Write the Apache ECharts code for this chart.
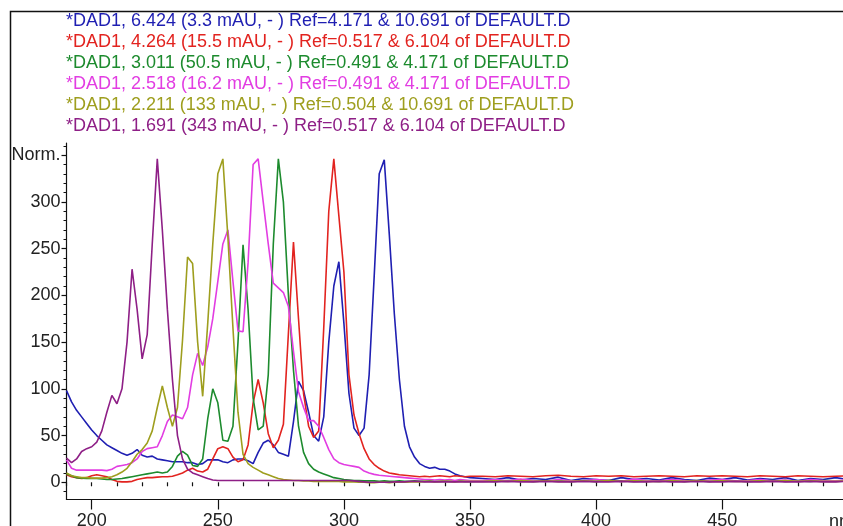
<!DOCTYPE html>
<html><head><meta charset="utf-8">
<script src="https://cdn.jsdelivr.net/npm/echarts@6/dist/echarts.min.js"></script>
<style>html,body{margin:0;padding:0;background:#fff}#c{width:843px;height:526px}</style>
</head><body><div id="c"></div>
<script>
// wavelength (nm)
const wl = [190,192,194,196,198,200,202,204,206,208,210,212,214,216,218,220,222,224,226,228,230,232,234,236,238,240,242,244,246,248,250,252,254,256,258,260,262,264,266,268,270,272,274,276,278,280,282,284,286,288,290,292,294,296,298,300,302,304,306,308,310,312,314,316,318,320,322,324,326,328,330,332,334,336,338,340,342,344,346,348,350,
355,360,365,370,375,380,385,390,395,400,405,410,415,420,425,430,435,440,445,450,455,460,465,470,475,480,485,490,495,500];

const dad6424 = [98,86,77,70,63,56,50,45,40,37,34,31,29,31,35,29,27,28,25,24,23,22,22,22,21,21,19,20,24,24,24,22,21,24,25,25,23,20,32,42,45,40,32,30,28,65,108,98,75,50,44,70,150,210,236,170,95,58,50,58,115,220,330,345,265,180,110,60,38,27,20,17,15,16,14,14,12,9,7,6,5,
4,3,5,2.5,4,3,5.5,2,4,3,2,5,3,4,2.5,5,3,2,4.5,3,5,2.5,4,3,5,2,4,3,5,3];
const dad4264 = [8,6,5,4,5,7,8,7,6,3,1,0.5,0.5,1,3,4,5,5,5.5,6,6,6.5,8,10,13,15,12,11,14,25,36,38,36,27,22,24,40,85,110,85,52,37,45,62,160,257,175,95,60,48,55,165,290,346,285,225,115,72,52,36,25,19,15,12,10,9,8,7.5,7,6.5,6,6.5,6,6.5,7,6.5,6,7,6.5,6,6.5,
6.5,6,7,6.5,6,7,7.5,6.5,6,7,6.5,7,6,6.5,7,6.5,6,7,6.5,7,6.5,6,7,6.5,6,7,6.5,6,6.5,7];
const dad3011 = [9,7,5,4.5,4,4,4,3.5,3,3,3.5,4,5,6,7,8,9,10,11,10,11,17,28,33,29,18,17,25,68,100,85,45,44,60,150,254,185,90,56,60,115,255,346,300,200,120,60,32,20,14,11,9,7,5,4,3,2.5,2,2,1.5,1.5,1.5,1,1.5,1,1,1.5,1,1,1.5,1,1,1.5,1,1,1.5,1,1,1.5,1,1,
1.5,1,2,1.5,1,1.5,2,1,1.5,1,2,1.5,1,1.5,1,2,1,1.5,1,2,1.5,1,1.5,2,1,1.5,1,2,1.5,1];
const dad2518 = [24,15,13,13,13,13,13,13,12.5,14,17,18,19,21,25,33,36,37,38,50,65,72,70,68,80,115,138,125,145,175,215,255,270,215,162,161,235,340,346,300,255,213,208,203,188,140,97,80,66,66,60,48,35,25,21,19,18,17,16,12,10,8.5,7.5,7,6.5,6,5.5,5,4.5,4,3.5,3,3,2.5,3,2.5,3,2,3,2.5,2,
2,3,1.5,3.5,2,1,3,2,1.5,3,2,1,3.5,2,1.5,3,2,1,2.5,3,1.5,2,3,1.5,2.5,1,3,2,1.5,2.5];
const dad2211 = [10,7,6,5,5,4.5,4.5,4.5,5,6,8,11,15,22,30,35,42,55,80,103,80,60,80,152,241,234,150,92,170,255,330,346,262,165,75,30,20,16,13,10,8,6,4,3,2.5,2,2,1.5,1.5,1,1,1,1,1,1,0.5,0.5,0.5,0,0,-0.5,-0.5,0,0,-0.5,0,0.5,0,0.5,0.5,0.5,1,1,0.5,1,1,1,0.5,1,1,1,
1,1.5,1,2,1,1.5,1,1,1.5,1,2,1,1.5,1,1,1.5,1,2,1,1.5,1,1,1.5,1,2,1,1.5,1,1,1.5];
const dad1691 = [26,21,25,33,36,38,43,55,75,93,84,100,150,228,185,132,158,255,346,270,185,110,50,25,14,10,8,6,4,2.5,2,2,2,2,2,2,2,2,2,2,2,2,2,2,2,2,2,2,2,2,2,2,2,2,2,2,2,1.5,1,0.5,0,0,0,0,0,0.5,0.5,0.5,1,1,1,0.5,0.5,0.5,0.5,0.5,0.5,0.5,0.5,0.5,0.5,
0.5,0.5,1,0.5,0.5,1,0.5,0.5,1,0.5,0.5,1,0.5,0.5,1,0.5,0.5,1,0.5,0.5,1,0.5,0.5,1,0.5,0.5,1,0.5,0.5,1];

const legendLines = [
  "*DAD1, 6.424 (3.3 mAU, - ) Ref=4.171 & 10.691 of DEFAULT.D",
  "*DAD1, 4.264 (15.5 mAU, - ) Ref=0.517 & 6.104 of DEFAULT.D",
  "*DAD1, 3.011 (50.5 mAU, - ) Ref=0.491 & 4.171 of DEFAULT.D",
  "*DAD1, 2.518 (16.2 mAU, - ) Ref=0.491 & 4.171 of DEFAULT.D",
  "*DAD1, 2.211 (133 mAU, - ) Ref=0.504 & 10.691 of DEFAULT.D",
  "*DAD1, 1.691 (343 mAU, - ) Ref=0.517 & 6.104 of DEFAULT.D"
];
const yTicks = [0,50,100,150,200,250,300,350];
const yMinor = [-10,0,10,20,30,40,50,60,70,80,90,100,110,120,130,140,150,160,170,180,190,200,210,220,230,240,250,260,270,280,290,300,310,320,330,340,350,360];
const xTicks = [200,250,300,350,400,450,500];
const xLabels = [200,250,300,350,400,450];
const xMinor = [190,200,210,220,230,240,250,260,270,280,290,300,310,320,330,340,350,360,370,380,390,400,410,420,430,440,450,460,470,480,490,500];

const seriesData = [dad6424, dad4264, dad3011, dad2518, dad2211, dad1691];
const colors = ['#1f1fb2','#e2231f','#1d8b2e','#e23de2','#9e9e1e','#8e1f86'];

const chart = echarts.init(document.getElementById('c'), null, {renderer:'canvas'});
const font = "'Liberation Sans', Arial, sans-serif";
const axisCommon = {color:'#222', fontFamily: font, fontSize: 18};

const option = {
  animation: false,
  backgroundColor: '#fff',
  grid: {left: 66.5, top: 143, width: 781.8, height: 356.5, containLabel: false, outerBoundsMode: 'none'},
  xAxis: [
    {type:'value', min:190, max:500, position:'bottom',
     axisLine:{show:true, onZero:false, lineStyle:{color:'#111', width:1.2}},
     axisTick:{show:true, length:10, customValues:xTicks, lineStyle:{color:'#111', width:1.2}},
     axisLabel:{show:true, customValues:xLabels, margin:13, ...axisCommon},
     splitLine:{show:false}},
    {type:'value', min:190, max:500, position:'bottom',
     axisLine:{show:false}, axisTick:{show:true, length:4, customValues:xMinor, lineStyle:{color:'#111', width:1.2}},
     axisLabel:{show:false}, splitLine:{show:false}}
  ],
  yAxis: [
    {type:'value', min:-18.4, max:363, position:'left',
     axisLine:{show:true, onZero:false, lineStyle:{color:'#111', width:1.2}},
     axisTick:{show:true, length:5, customValues:yTicks, lineStyle:{color:'#111', width:1.2}},
     axisLabel:{show:true, customValues:yTicks, margin:6, ...axisCommon,
       formatter: v => (v === 350 ? 'Norm.' : String(v))},
     splitLine:{show:false}},
    {type:'value', min:-18.4, max:363, position:'left',
     axisLine:{show:false}, axisTick:{show:true, length:3, customValues:yMinor, lineStyle:{color:'#111', width:1}},
     axisLabel:{show:false}, splitLine:{show:false}}
  ],
  series: seriesData.map((arr, i) => ({
    type:'line', xAxisIndex:0, yAxisIndex:0, showSymbol:false, symbol:'none',
    data: wl.map((w, k) => [w, arr[k]]),
    lineStyle:{color: colors[i], width:1.6}, itemStyle:{color: colors[i]},
    z: 2 + i
  })),
  graphic: [
    {type:'rect', shape:{x:10.5, y:11.5, width:900, height:600}, style:{fill:null, stroke:'#111', lineWidth:1.5}, silent:true},
    ...legendLines.map((t, i) => ({
      type:'text', left: 66, top: 12 + i*21,
      style:{text:t, fill: colors[i], font: "18px " + font}
    })),
    {type:'text', left: 829, top: 513, style:{text:'nm', fill:'#222', font: "18px " + font}}
  ]
};
chart.setOption(option);
</script></body></html>
